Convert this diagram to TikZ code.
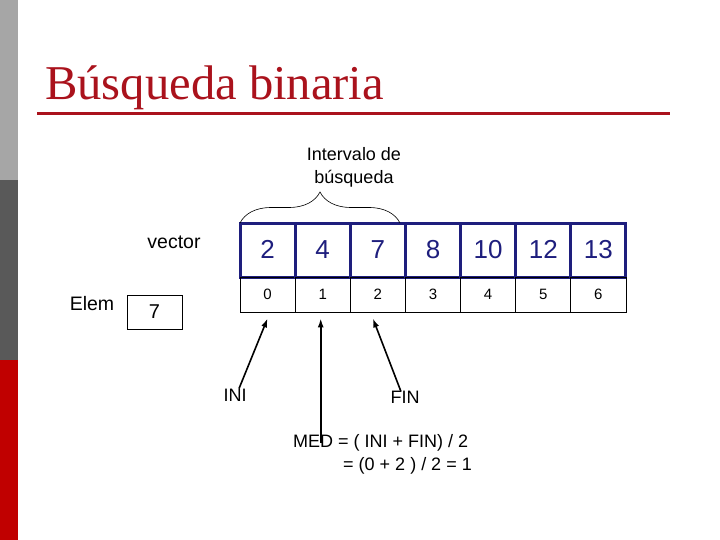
\documentclass[tikz,border=0pt]{standalone}
\usepackage{fontspec}
\setmainfont{Liberation Sans}
\newfontfamily\titlefont{Liberation Serif}
\usepackage{xcolor}
\usetikzlibrary{arrows.meta, positioning, calc, decorations.pathreplacing}

\definecolor{navy}{RGB}{30,30,125}
\definecolor{titlered}{RGB}{170,18,28}
\definecolor{barlight}{RGB}{166,166,166}
\definecolor{bardark}{RGB}{89,89,89}
\definecolor{barred}{RGB}{192,0,0}

\begin{document}
\begin{tikzpicture}[
    x=1pt, y=-1pt,
    % --- node styles ---
    valcell/.style={rectangle, draw=navy, line width=3pt, text=navy,
        minimum width=55.14pt, minimum height=53pt, inner sep=0pt,
        font=\fontsize{26}{28}\selectfont},
    idxcell/.style={rectangle, draw=black, line width=0.8pt,
        minimum width=55.14pt, minimum height=35pt, inner sep=0pt,
        font=\fontsize{15}{17}\selectfont},
    elembox/.style={rectangle, draw=black, line width=0.8pt,
        minimum width=55pt, minimum height=34pt, inner sep=0pt,
        font=\fontsize{20}{22}\selectfont},
    lbl/.style={font=\fontsize{18}{21}\selectfont, inner sep=1pt},
    % --- arrow styles ---
    arr/.style={-{Latex[length=9pt, width=6pt]}, line width=1.6pt}
]
\useasboundingbox (0,0) rectangle (720,540);

%%% ================= SIDE BAR =================
\fill[barlight] (0,0) rectangle (18,180);
\fill[bardark] (0,180) rectangle (18,360);
\fill[barred] (0,360) rectangle (18,540);

%%% ================= TITLE =================
\node (title) [anchor=base west, inner sep=0pt, text=titlered,
    font=\titlefont\fontsize{48.6}{50}\selectfont] at (45,100)
    {Búsqueda binaria};
\draw[titlered, line width=3pt] (37,114) -- (670,114);

%%% ================= VECTOR =================
\foreach \v [count=\i from 0] in {2,4,7,8,10,12,13} {
    \node (v\i) [valcell] at ({240+55.14*(\i+0.5)},250.5) {\raisebox{2pt}{\v}};
    \node (i\i) [idxcell] at ({240+55.14*(\i+0.5)},294.5) {\i};
}
\node (vec) [font=\fontsize{19.5}{21}\selectfont] at (174,242) {vector};

%%% ================= ELEM =================
\node (elem) [font=\fontsize{19.5}{21}\selectfont] at (92,304) {Elem};
\node (ebox) [elembox] at (154.5,312) {7};

%%% ================= INTERVALO =================
\node (interv) [align=center, font=\fontsize{18}{23}\selectfont] at (354,167)
    {Intervalo de\\búsqueda};
\coordinate (bl) at (240,223);
\coordinate (br) at (400,223);
\draw[decorate, decoration={brace, amplitude=31pt}, line width=0.6pt] (bl) -- (br);

%%% ================= INDICES =================
\node (ini) [lbl] at (235,395) {INI};
\node (fin) [lbl] at (405,397) {FIN};
\node (med) [lbl, anchor=west] at (292,443) {MED = ( INI + FIN) / 2};
\node (medval) [lbl, anchor=east] at (473,466) {= (0 + 2 ) / 2 = 1};

%%% ================= SETAS =================
\draw[arr] ([xshift=4pt, yshift=-1pt]ini.north) -- ([yshift=-6pt]i0.south);
\draw[arr] ([xshift=-2pt]i1.south |- med.center) -- ([xshift=-2pt, yshift=-6pt]i1.south);
\draw[arr] ([xshift=-4pt, yshift=-2pt]fin.north) -- ([xshift=-5pt, yshift=-6pt]i2.south);

\end{tikzpicture}
\end{document}
